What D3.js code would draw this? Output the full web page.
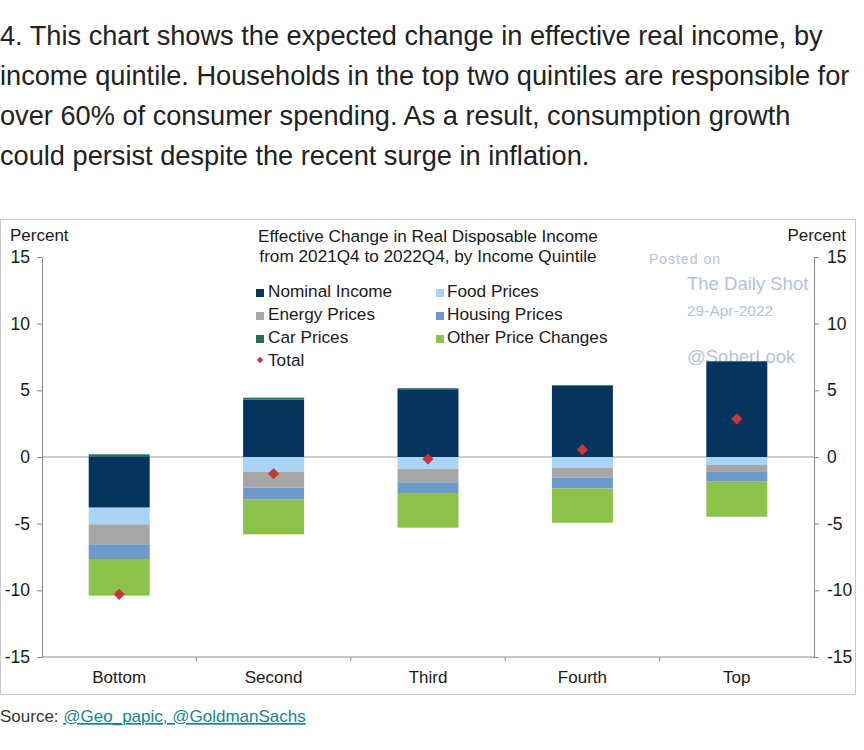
<!DOCTYPE html>
<html>
<head>
<meta charset="utf-8">
<script src="https://cdn.jsdelivr.net/npm/d3@7/dist/d3.min.js"></script>
<style>
  html, body { margin: 0; padding: 0; background: #fff; }
  svg { display: block; font-family: "Liberation Sans", Arial, sans-serif; }
</style>
</head>
<body>
<svg id="chart" width="864" height="750"></svg>
<script>
// ---- data ----
const introLines = [
  "4. This chart shows the expected change in effective real income, by",
  "income quintile. Households in the top two quintiles are responsible for",
  "over 60% of consumer spending. As a result, consumption growth",
  "could persist despite the recent surge in inflation."
];
const titleLines = [
  "Effective Change in Real Disposable Income",
  "from 2021Q4 to 2022Q4, by Income Quintile"
];
const categories = ["Bottom", "Second", "Third", "Fourth", "Top"];
const seriesNames = ["Nominal Income", "Food Prices", "Energy Prices", "Housing Prices", "Car Prices", "Other Price Changes"];
const nominalIncome = [-3.8, 4.3, 5.08, 5.35, 7.17];
const foodPrices = [-1.25, -1.1, -0.9, -0.8, -0.6];
const energyPrices = [-1.5, -1.2, -1.0, -0.75, -0.52];
const housingPrices = [-1.1, -0.9, -0.8, -0.8, -0.73];
const carPrices = [0.2, 0.15, 0.08, 0.05, 0.03];
const otherPrices = [-2.75, -2.6, -2.6, -2.58, -2.63];
const totals = [-10.3, -1.25, -0.15, 0.55, 2.85];
const yTicks = [-15, -10, -5, 0, 5, 10, 15];
const colors = ["#05345f", "#aad4f3", "#a6a6a6", "#6e9acb", "#1f7256", "#8cc24a"];
const totalColor = "#c9363a";
const watermark = ["Posted on", "The Daily Shot", "29-Apr-2022", "@SoberLook"];
const sourceLabel = "Source: ";
const sourceLinks = "@Geo_papic, @GoldmanSachs";

// ---- build ----
const svg = d3.select("#chart");
const font = "17px";

// intro paragraph
svg.append("g").selectAll("text").data(introLines).join("text")
  .attr("x", 0).attr("y", (d, i) => 45 + i * 40)
  .attr("font-size", "27.2px").attr("fill", "#222")
  .text(d => d);

// frame
svg.append("rect").attr("x", 0.5).attr("y", 219.5).attr("width", 855).attr("height", 475)
  .attr("fill", "#fff").attr("stroke", "#c8c8c8");

const pLeft = 42, pRight = 814, pTop = 257, pBottom = 657;
const y = d3.scaleLinear().domain([-15, 15]).range([pBottom, pTop]);
const x = d3.scaleBand().domain(categories).range([pLeft, pRight]).paddingInner(0.605).paddingOuter(0.3025);
const xb = d3.scaleBand().domain(categories).range([pLeft, pRight]).padding(0);

// watermark (drawn under the bars)
const wm = svg.append("g").attr("fill", "#b6c2dd");
wm.append("text").attr("x", 649).attr("y", 264).attr("font-size", "14px").attr("letter-spacing", "1px").text(watermark[0]);
wm.append("text").attr("x", 687).attr("y", 290).attr("font-size", "18.5px").text(watermark[1]);
wm.append("text").attr("x", 687).attr("y", 316).attr("font-size", "15.5px").text(watermark[2]);
wm.append("text").attr("x", 687).attr("y", 363).attr("font-size", "18.5px").text(watermark[3]);

// axes
const fmt = d => String(d);
const axL = svg.append("g").attr("transform", `translate(${pLeft},0)`)
  .call(d3.axisLeft(y).tickValues(yTicks).tickSize(5).tickSizeOuter(0).tickPadding(7).tickFormat(fmt));
const axR = svg.append("g").attr("transform", `translate(${pRight},0)`)
  .call(d3.axisRight(y).tickValues(yTicks).tickSize(5).tickSizeOuter(0).tickPadding(8).tickFormat(fmt));
[axL, axR].forEach(a => {
  a.select(".domain").attr("stroke", "#8a8a8a");
  a.selectAll(".tick line").attr("stroke", "#8a8a8a");
  a.selectAll(".tick text").attr("font-size", "17.5px").attr("fill", "#1a1a1a")
    .attr("font-family", "\"Liberation Sans\", Arial, sans-serif");
});

// bottom axis line and category separators
const axB = svg.append("g").attr("transform", `translate(0,${pBottom})`)
  .call(d3.axisBottom(x).tickSize(0).tickPadding(14));
axB.select(".domain").remove();
axB.selectAll(".tick text").attr("font-size", font).attr("fill", "#1a1a1a")
  .attr("font-family", "\"Liberation Sans\", Arial, sans-serif");
svg.append("line").attr("x1", pLeft).attr("x2", pRight).attr("y1", pBottom).attr("y2", pBottom).attr("stroke", "#8a8a8a");
svg.append("g").selectAll("line").data(categories.slice(1)).join("line")
  .attr("x1", d => xb(d)).attr("x2", d => xb(d)).attr("y1", pBottom).attr("y2", pBottom + 4)
  .attr("stroke", "#8a8a8a");

// axis headers
svg.append("text").attr("x", 10).attr("y", 241).attr("font-size", font).attr("fill", "#1a1a1a").text("Percent");
svg.append("text").attr("x", 846).attr("y", 241).attr("text-anchor", "end").attr("font-size", font).attr("fill", "#1a1a1a").text("Percent");

// title
svg.append("g").selectAll("text").data(titleLines).join("text")
  .attr("x", 428).attr("y", (d, i) => 242 + i * 20).attr("text-anchor", "middle")
  .attr("font-size", "17.2px").attr("fill", "#1a1a1a").text(d => d);

// stacked bars
const seriesValues = [nominalIncome, foodPrices, energyPrices, housingPrices, carPrices, otherPrices];
const rows = categories.map((c, i) => {
  const r = { cat: c };
  seriesNames.forEach((s, k) => r[s] = seriesValues[k][i]);
  return r;
});
const stacked = d3.stack().keys(seriesNames).offset(d3.stackOffsetDiverging)(rows);

// zero line
svg.append("line").attr("x1", pLeft).attr("x2", pRight).attr("y1", y(0)).attr("y2", y(0))
  .attr("stroke", "#9a9a9a").attr("stroke-width", 1.2);

svg.append("g").selectAll("g").data(stacked).join("g")
  .attr("fill", (d, i) => colors[i])
  .selectAll("rect").data(d => d).join("rect")
  .attr("x", d => x(d.data.cat))
  .attr("width", x.bandwidth())
  .attr("y", d => y(Math.max(d[0], d[1])))
  .attr("height", d => Math.abs(y(d[0]) - y(d[1])));

// totals
const diamond = d3.symbol().type(d3.symbolDiamond2).size(80);
svg.append("g").selectAll("path").data(categories).join("path")
  .attr("d", diamond)
  .attr("transform", (d, i) => `translate(${x(d) + x.bandwidth() / 2},${y(totals[i])})`)
  .attr("fill", totalColor);

// legend
const legendItems = [
  { name: seriesNames[0], color: colors[0], col: 0, row: 0 },
  { name: seriesNames[1], color: colors[1], col: 1, row: 0 },
  { name: seriesNames[2], color: colors[2], col: 0, row: 1 },
  { name: seriesNames[3], color: colors[3], col: 1, row: 1 },
  { name: seriesNames[4], color: colors[4], col: 0, row: 2 },
  { name: seriesNames[5], color: colors[5], col: 1, row: 2 }
];
const lg = svg.append("g");
const colX = [256, 436], textX = [268, 447];
lg.selectAll("rect").data(legendItems).join("rect")
  .attr("x", d => colX[d.col]).attr("y", d => 289 + d.row * 23)
  .attr("width", 8).attr("height", 8).attr("fill", d => d.color);
lg.selectAll("text.li").data(legendItems).join("text").attr("class", "li")
  .attr("x", d => textX[d.col]).attr("y", d => 297 + d.row * 23)
  .attr("font-size", "17.2px").attr("fill", "#1a1a1a").text(d => d.name);
lg.append("path").attr("d", d3.symbol().type(d3.symbolDiamond2).size(26))
  .attr("transform", "translate(260,360)").attr("fill", totalColor);
lg.append("text").attr("x", 268).attr("y", 366).attr("font-size", "17.2px").attr("fill", "#1a1a1a").text("Total");

// source
const src = svg.append("text").attr("x", 0).attr("y", 722).attr("font-size", "17px");
src.append("tspan").attr("fill", "#333").text(sourceLabel);
src.append("tspan").attr("fill", "#17858f").attr("text-decoration", "underline").text(sourceLinks);
</script>
</body>
</html>
